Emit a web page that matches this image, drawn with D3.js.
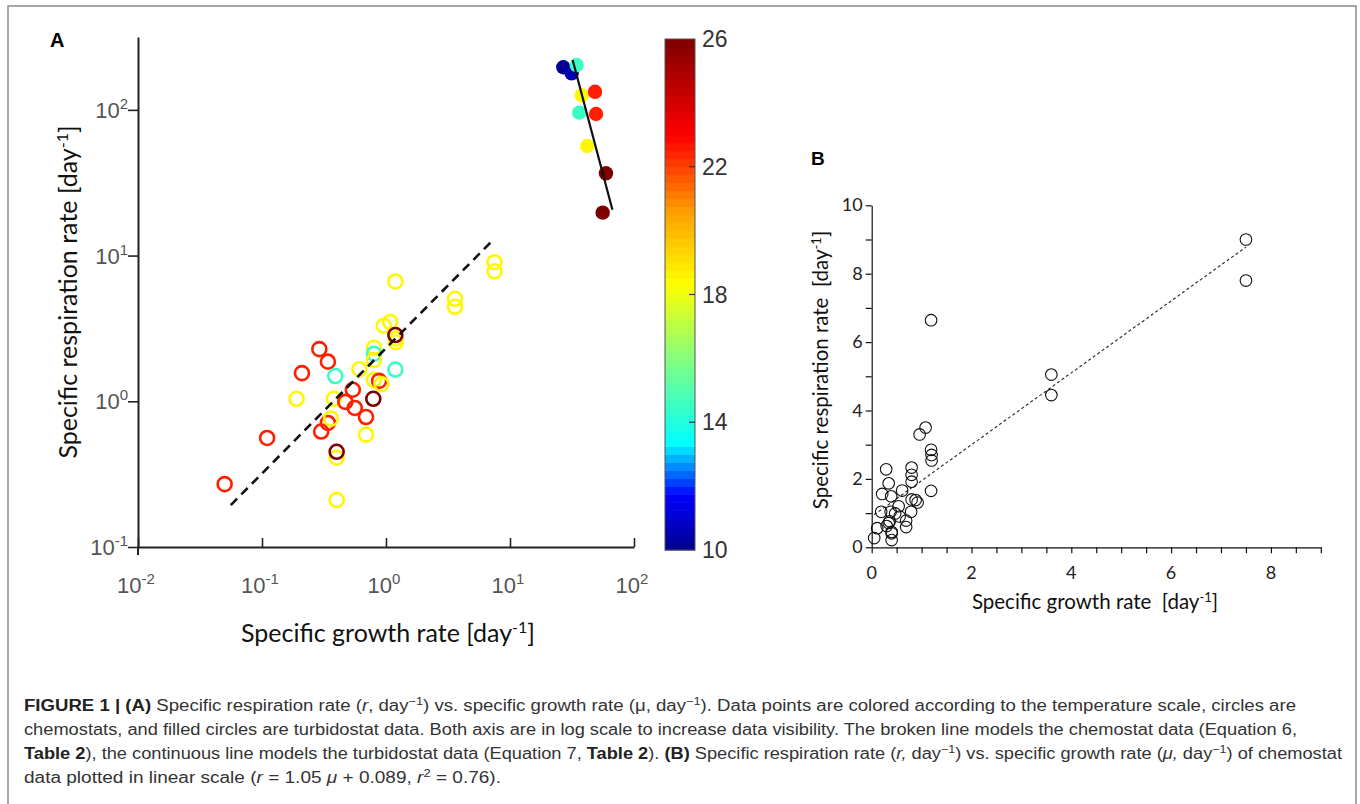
<!DOCTYPE html>
<html>
<head>
<meta charset="utf-8">
<script src="https://cdnjs.cloudflare.com/ajax/libs/d3/7.8.5/d3.min.js"></script>
<style>
  body { margin: 0; background: #fff; }
</style>
</head>
<body>
<div id="chart"></div>
<script>
// chemostat data (open circles), same points in A (log) and B (linear)
const chemoMu = [0.05, 0.11, 0.19, 0.21, 0.29, 0.34, 0.39, 0.38, 0.34, 0.30,
                 0.36, 0.40, 0.40, 0.40, 0.47, 0.54, 0.56, 0.69, 0.61, 0.69,
                 0.79, 0.80, 0.80, 0.80, 0.80, 0.88, 0.92, 1.19, 0.96, 1.08,
                 1.20, 1.20, 1.19, 1.19, 3.6, 3.6, 7.5, 7.5];
const chemoR = [0.27, 0.56, 1.04, 1.56, 2.28, 1.87, 1.49, 1.04, 0.71, 0.62,
                0.76, 0.41, 0.45, 0.21, 0.99, 1.20, 0.90, 0.78, 1.66, 0.59,
                1.04, 2.33, 2.12, 1.92, 1.40, 1.38, 1.31, 1.65, 3.30, 3.50,
                2.70, 2.54, 2.85, 6.64, 5.05, 4.45, 9.0, 7.8];
const chemoT = [22.5, 22.5, 18.5, 22.5, 22.5, 22.5, 14.5, 18.5, 22.5, 22.5,
                18.5, 18.5, 26, 18.5, 22.5, 22.5, 22.5, 22.5, 18.5, 18.5,
                26, 18.5, 14.5, 18.5, 18.5, 22.5, 18.5, 14.5, 18.5, 18.5,
                18.5, 18.5, 26, 18.5, 18.5, 18.5, 18.5, 18.5];

// turbidostat data (filled circles)
const turbMu = [26.9, 31.4, 34.5, 37.9, 48.5, 36.2, 49.4, 42.0, 59.4, 55.9];
const turbR = [196, 178, 203, 126, 133, 95.7, 93.7, 56.5, 36.7, 19.7];
const turbT = [10, 10.5, 14.5, 18.5, 22.5, 14.5, 22.5, 18.5, 26, 26];

// model lines (end points, data units)
const chemoFitMu = [0.056, 7.1];
const chemoFitR = [0.194, 12.5];
const turbFitMu = [32, 67];
const turbFitR = [220, 20.6];
const linFitMu = [0.05, 7.5];
const linFitR = [0.95, 8.78];

// ticks
const xLogTicks = [0.01, 0.1, 1, 10, 100];
const xLogExp = ["-2", "-1", "0", "1", "2"];
const yLogTicks = [0.1, 1, 10, 100];
const yLogExp = ["-1", "0", "1", "2"];
const tempTicks = [10, 14, 18, 22, 26];
const linXTicks = [0, 2, 4, 6, 8];
const linYTicks = [0, 2, 4, 6, 8, 10];

// jet-like temperature colour map
const jetStops = [0, 0.107, 0.21, 0.37, 0.52, 0.66, 0.81, 1];
const jetColors = ["#00008c", "#0000ff", "#00ffff", "#80ff80", "#ffff00", "#ffa000", "#ff0000", "#7f0000"];

const ARIAL = "Liberation Sans, Arial, sans-serif";
const width = 1360, height = 804;
const svg = d3.select("#chart").append("svg")
    .attr("width", width)
    .attr("height", height)
    .attr("viewBox", `0 0 ${width} ${height}`)
    .attr("font-family", "Lato, 'Open Sans', sans-serif");

const tempColor = d3.scaleLinear()
    .domain(jetStops.map(s => 10 + 16 * s))
    .range(jetColors)
    .clamp(true);

// figure frame
svg.append("rect")
    .attr("x", 8).attr("y", 6)
    .attr("width", 1348).attr("height", 820)
    .attr("fill", "none").attr("stroke", "#8a8a8a").attr("stroke-width", 1.5);

function supText(sel, base, exp, expSize, shift) {
    sel.append("tspan").text(base);
    sel.append("tspan").attr("dy", -shift).attr("font-size", expSize).text(exp);
}

function minorLog(decades, maxV) {
    const out = [];
    decades.forEach(d => { for (let k = 2; k <= 9; k++) if (k * d <= maxV) out.push(k * d); });
    return out;
}

function drawPanelA() {
    const g = svg.append("g");
    const x = d3.scaleLog().domain([0.01, 100]).range([138, 634]);
    const y = d3.scaleLog().domain([0.1, 316.2]).range([547, 37]);
    const axisColor = "#222";

    // x axis, ticks pointing up
    const xMinor = minorLog([0.01, 0.1, 1, 10], 100);
    const xg = g.append("g").attr("transform", `translate(0,${y(0.1)})`);
    xg.call(d3.axisBottom(x).tickValues(xMinor).tickSize(-5).tickSizeOuter(0).tickFormat(""));
    xg.call(d3.axisBottom(x).tickValues(xLogTicks).tickSize(-9).tickSizeOuter(0).tickFormat(""));
    xg.selectAll("path, line").attr("stroke", axisColor).attr("stroke-width", 2);
    xg.selectAll(".tick line").attr("stroke-width", 1.6);

    // y axis, ticks pointing left
    const yMinor = minorLog([0.1, 1, 10, 100], 250);
    const yg = g.append("g").attr("transform", `translate(${x(0.01)},0)`);
    yg.call(d3.axisLeft(y).tickValues(yMinor).tickSize(6).tickSizeOuter(0).tickFormat(""));
    yg.call(d3.axisLeft(y).tickValues(yLogTicks).tickSize(10).tickSizeOuter(0).tickFormat(""));
    yg.selectAll("path, line").attr("stroke", axisColor).attr("stroke-width", 2);
    yg.selectAll(".tick line").attr("stroke-width", 1.6);
    g.append("line")
        .attr("x1", x(0.01)).attr("x2", x(0.01))
        .attr("y1", y(0.1)).attr("y2", y(0.1) + 8)
        .attr("stroke", axisColor).attr("stroke-width", 2);

    // tick labels
    xLogTicks.forEach((v, i) => {
        const t = g.append("text")
            .attr("x", x(v) - 2).attr("y", y(0.1) + 46)
            .attr("text-anchor", "middle")
            .attr("font-family", ARIAL)
            .attr("font-size", 22).attr("fill", "#555");
        supText(t, "10", xLogExp[i], 15, 9);
    });
    yLogTicks.forEach((v, i) => {
        const t = g.append("text")
            .attr("x", x(0.01) - 10).attr("y", y(v) + 8)
            .attr("text-anchor", "end")
            .attr("font-family", ARIAL)
            .attr("font-size", 22).attr("fill", "#555");
        supText(t, "10", yLogExp[i], 15, 9);
    });

    // axis titles
    const xt = g.append("text")
        .attr("x", 388).attr("y", 642)
        .attr("text-anchor", "middle")
        .attr("font-size", 25).attr("fill", "#111");
    xt.append("tspan").text("Specific growth rate [day");
    xt.append("tspan").attr("dy", -9).attr("font-size", 16).text("-1");
    xt.append("tspan").attr("dy", 9).text("]");

    const yt = g.append("text")
        .attr("transform", "translate(77,292) rotate(-90)")
        .attr("text-anchor", "middle")
        .attr("font-size", 25).attr("fill", "#111");
    yt.append("tspan").text("Specific respiration rate [day");
    yt.append("tspan").attr("dy", -9).attr("font-size", 16).text("-1");
    yt.append("tspan").attr("dy", 9).text("]");

    g.append("text")
        .attr("x", 50).attr("y", 47)
        .attr("font-family", ARIAL)
        .attr("font-weight", "bold").attr("font-size", 20).text("A");

    // chemostat points
    g.append("g").selectAll("circle")
        .data(d3.range(chemoMu.length))
        .join("circle")
        .attr("cx", i => x(chemoMu[i]))
        .attr("cy", i => y(chemoR[i]))
        .attr("r", 7)
        .attr("fill", "none")
        .attr("stroke", i => tempColor(chemoT[i]))
        .attr("stroke-width", 2.6);

    // turbidostat points
    g.append("g").selectAll("circle")
        .data(d3.range(turbMu.length))
        .join("circle")
        .attr("cx", i => x(turbMu[i]))
        .attr("cy", i => y(turbR[i]))
        .attr("r", 7.2)
        .attr("fill", i => tempColor(turbT[i]));

    const line = d3.line().x(d => x(d[0])).y(d => y(d[1]));
    g.append("path")
        .attr("d", line(d3.zip(chemoFitMu, chemoFitR)))
        .attr("fill", "none").attr("stroke", "#111")
        .attr("stroke-width", 2.6).attr("stroke-dasharray", "9,6");
    g.append("path")
        .attr("d", line(d3.zip(turbFitMu, turbFitR)))
        .attr("fill", "none").attr("stroke", "#111")
        .attr("stroke-width", 2.2);

    // colour bar
    const cbX = 665, cbW = 30;
    const cy = d3.scaleLinear().domain([10, 26]).range([550, 39]);
    const nBands = 64, step = 16 / nBands;
    g.append("g").selectAll("rect")
        .data(d3.range(nBands))
        .join("rect")
        .attr("x", cbX)
        .attr("y", i => cy(10 + (i + 1) * step))
        .attr("width", cbW)
        .attr("height", i => cy(10 + i * step) - cy(10 + (i + 1) * step) + 0.5)
        .attr("fill", i => tempColor(10 + (i + 0.5) * step));
    g.append("rect")
        .attr("x", cbX).attr("y", cy(26))
        .attr("width", cbW).attr("height", cy(10) - cy(26))
        .attr("fill", "none").attr("stroke", "#555").attr("stroke-width", 1);
    g.append("g").selectAll("line")
        .data(tempTicks.slice(1, -1))
        .join("line")
        .attr("x1", cbX + cbW - 6).attr("x2", cbX + cbW)
        .attr("y1", d => cy(d)).attr("y2", d => cy(d))
        .attr("stroke", "#333").attr("stroke-width", 1.2);
    g.append("g").selectAll("text")
        .data(tempTicks)
        .join("text")
        .attr("x", cbX + cbW + 7)
        .attr("y", d => cy(d) + 8)
        .attr("font-family", ARIAL)
        .attr("font-size", 23).attr("fill", "#333")
        .text(d => d);
}

function drawPanelB() {
    const g = svg.append("g");
    const x = d3.scaleLinear().domain([0, 9]).range([871.7, 1320.8]);
    const y = d3.scaleLinear().domain([0, 10]).range([547.3, 205.3]);

    const xg = g.append("g").attr("transform", `translate(0,${y(0)})`);
    xg.call(d3.axisBottom(x).tickValues(d3.range(0, 9.01, 0.5)).tickSize(6).tickSizeOuter(0).tickFormat(""));
    const yg = g.append("g").attr("transform", `translate(${x(0)},0)`);
    yg.call(d3.axisLeft(y).tickValues(d3.range(0, 10.01, 1)).tickSize(6).tickSizeOuter(0).tickFormat(""));
    g.selectAll("path, line").attr("stroke", "#111").attr("stroke-width", 1.2);

    g.append("g").selectAll("text")
        .data(linXTicks)
        .join("text")
        .attr("x", d => x(d)).attr("y", y(0) + 32)
        .attr("text-anchor", "middle")
        .attr("font-size", 18).attr("fill", "#222")
        .text(d => d);
    g.append("g").selectAll("text")
        .data(linYTicks)
        .join("text")
        .attr("x", x(0) - 9).attr("y", d => y(d) + 6)
        .attr("text-anchor", "end")
        .attr("font-size", 18).attr("fill", "#222")
        .text(d => d);

    const xt = g.append("text")
        .attr("x", 1095).attr("y", 609)
        .attr("text-anchor", "middle")
        .style("white-space", "pre")
        .attr("font-size", 20.5).attr("fill", "#111");
    xt.append("tspan").text("Specific growth rate  [day");
    xt.append("tspan").attr("dy", -7).attr("font-size", 13).text("-1");
    xt.append("tspan").attr("dy", 7).text("]");

    const yt = g.append("text")
        .attr("transform", "translate(828,370) rotate(-90)")
        .attr("text-anchor", "middle")
        .style("white-space", "pre")
        .attr("font-size", 20.5).attr("fill", "#111");
    yt.append("tspan").text("Specific respiration rate  [day");
    yt.append("tspan").attr("dy", -7).attr("font-size", 13).text("-1");
    yt.append("tspan").attr("dy", 7).text("]");

    g.append("text")
        .attr("x", 811).attr("y", 165)
        .attr("font-family", ARIAL)
        .attr("font-weight", "bold").attr("font-size", 19).text("B");

    g.append("path")
        .attr("d", d3.line().x(d => x(d[0])).y(d => y(d[1]))(d3.zip(linFitMu, linFitR)))
        .attr("fill", "none").attr("stroke", "#333")
        .attr("stroke-width", 1.2).attr("stroke-dasharray", "3,2.5");

    g.append("g").selectAll("circle")
        .data(d3.range(chemoMu.length))
        .join("circle")
        .attr("cx", i => x(chemoMu[i]))
        .attr("cy", i => y(chemoR[i]))
        .attr("r", 5.8)
        .attr("fill", "none")
        .attr("stroke", "#111")
        .attr("stroke-width", 1.1);
}

function drawCaption() {
    const lines = [
        [["b", "FIGURE 1 | (A)"], ["", " Specific respiration rate ("], ["i", "r"], ["", ", day"], ["s", "\u22121"],
         ["", ") vs. specific growth rate (\u03bc, day"], ["s", "\u22121"],
         ["", "). Data points are colored according to the temperature scale, circles are"]],
        [["", "chemostats, and filled circles are turbidostat data. Both axis are in log scale to increase data visibility. The broken line models the chemostat data (Equation 6,"]],
        [["b", "Table 2"], ["", "), the continuous line models the turbidostat data (Equation 7, "], ["b", "Table 2"],
         ["", "). "], ["b", "(B)"], ["", " Specific respiration rate ("], ["i", "r,"], ["", " day"], ["s", "\u22121"],
         ["", ") vs. specific growth rate ("], ["i", "\u03bc,"], ["", " day"], ["s", "\u22121"], ["", ") of chemostat"]],
        [["", "data plotted in linear scale ("], ["i", "r"], ["", " = 1.05 "], ["i", "\u03bc"], ["", " + 0.089, "],
         ["i", "r"], ["s", "2"], ["", " = 0.76)."]]
    ];
    const lineWidths = [1272, 1273, 1318, 477];
    const cap = svg.append("g");
    lines.forEach((parts, li) => {
        const t = cap.append("text")
            .attr("x", 24).attr("y", 711 + li * 24)
            .attr("font-family", ARIAL)
            .attr("font-size", 16).attr("fill", "#333")
            .style("white-space", "pre")
            .attr("textLength", lineWidths[li])
            .attr("lengthAdjust", "spacingAndGlyphs");
        let up = false;
        parts.forEach(([kind, str]) => {
            const s = t.append("tspan").text(str);
            if (kind === "b") s.attr("font-weight", "bold").attr("fill", "#222");
            if (kind === "i") s.attr("font-style", "italic");
            if (kind === "s") { s.attr("font-size", 11).attr("dy", -6); up = true; }
            else if (up) { s.attr("dy", 6); up = false; }
        });
    });
}

drawPanelA();
drawPanelB();
drawCaption();
</script>
</body>
</html>
